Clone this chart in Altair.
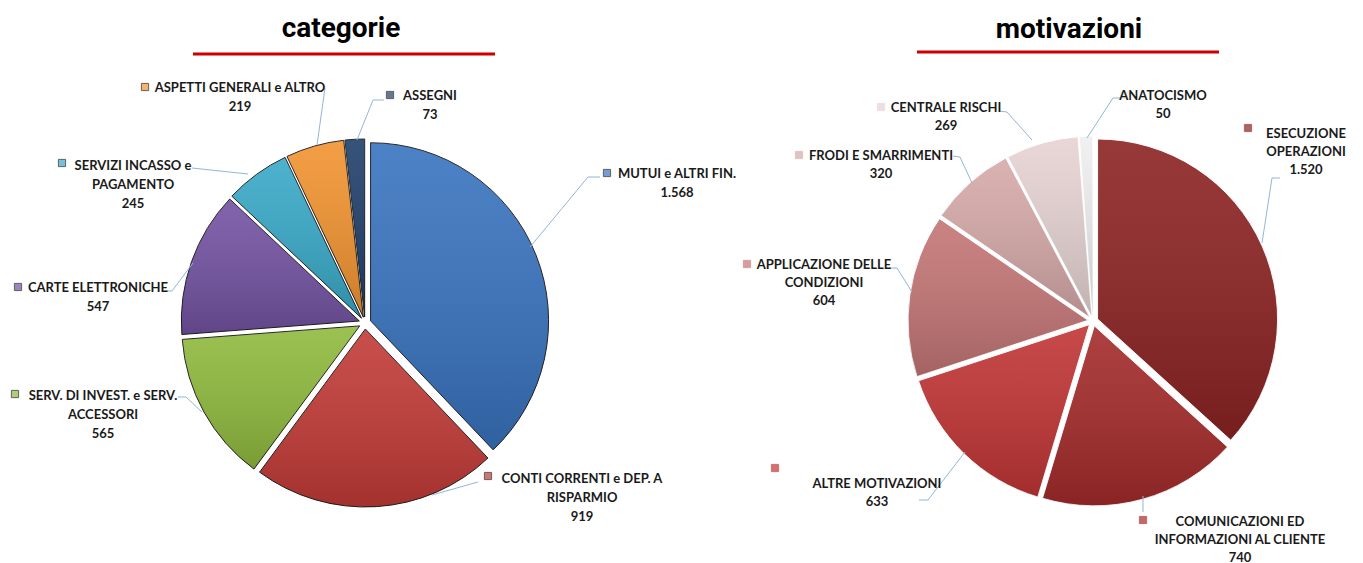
import altair as alt
import pandas as pd

# ---------------- data ----------------
cat_left = ["MUTUI e ALTRI FIN.", "CONTI CORRENTI e DEP. A\nRISPARMIO",
            "SERV. DI INVEST. e SERV.\nACCESSORI", "CARTE ELETTRONICHE",
            "SERVIZI INCASSO e\nPAGAMENTO", "ASPETTI GENERALI e ALTRO", "ASSEGNI"]
val_left = [1568, 919, 565, 547, 245, 219, 73]

cat_right = ["ESECUZIONE\nOPERAZIONI", "COMUNICAZIONI ED\nINFORMAZIONI AL CLIENTE",
             "ALTRE MOTIVAZIONI", "APPLICAZIONE DELLE\nCONDIZIONI",
             "FRODI E SMARRIMENTI", "CENTRALE RISCHI", "ANATOCISMO"]
val_right = [1520, 740, 633, 604, 320, 269, 50]

titles = ["categorie", "motivazioni"]

# ---------------- styles / layout ----------------
col_left = ["#3873bf", "#c23a36", "#8fba3d", "#7352a2", "#38a9c8", "#f29330", "#1f3f6b"]
col_right = ["#8c2222", "#a42a2a", "#c13434", "#c47575", "#d6a9a9", "#e7d3d3", "#efefef"]

pies = {"L": dict(cx=365, cy=323, r=178, e=6, stroke="#1e1e1e"),
        "R": dict(cx=1093, cy=321, r=180, e=5, stroke="#ffffff")}

# label block: centre x, first-line centre y (page pixels)
lab_left = [(677, 173), (582, 478), (103, 395), (98, 287), (133, 165), (240, 87), (430, 95)]
lab_right = [(1306, 133), (1240, 521), (877, 483), (824, 264), (881, 155), (946, 107), (1163, 95)]
line_h = {"L": 19, "R": 18}
mk_left = [(607, 173), (488, 476), (15, 394), (18, 287), (62, 163), (145, 87), (390, 95)]
mk_right = [(1248, 128), (1143, 520), (775, 468), (747, 264), (799, 155), (881, 107), (1124, 95)]

lines_left = [[(530, 247), (588, 177), (600, 177)],
              [(432, 495), (478, 482)],
              [(178, 397), (186, 397), (202, 412)],
              [(166, 291), (172, 291), (193, 263)],
              [(192, 168), (248, 174)],
              [(325, 88), (317, 145)],
              [(384, 100), (373, 100), (357, 140)]]
lines_right = [[(1280, 178), (1272, 178), (1262, 243)],
               [(1143, 496), (1143, 512)],
               [(919, 500), (928, 500), (965, 452)],
               [(889, 268), (897, 268), (912, 292)],
               [(953, 156), (960, 157), (972, 183)],
               [(999, 111), (1007, 112), (1032, 140)],
               [(1120, 98), (1113, 98), (1087, 138)]]

title_pos = [(341, 29), (1069, 30)]
underline = [(193, 495, 54), (917, 1219, 52)]

W, H = 1347, 555
LABEL_FONT = "Lato"

# ---------------- tables ----------------
rows = []
for pie, cats, vals, cols in (("L", cat_left, val_left, col_left), ("R", cat_right, val_right, col_right)):
    p = pies[pie]
    for i, (c, v, col) in enumerate(zip(cats, vals, cols)):
        rows.append(dict(pie=pie, idx=i, name=c, value=v, color=col,
                         pcx=p["cx"], pcy=p["cy"], r=p["r"], e=p["e"], stroke=p["stroke"]))
slices = pd.DataFrame(rows)

lab_rows = []
for pie, cats, vals, cols, labs, mks in (("L", cat_left, val_left, col_left, lab_left, mk_left),
                                          ("R", cat_right, val_right, col_right, lab_right, mk_right)):
    for c, v, col, (lx, ly), (mx, my) in zip(cats, vals, cols, labs, mks):
        lab_rows.append(dict(pie=pie, name=c, value=v, color=col, lx=lx, ly=ly + 4.5, mx=mx, my=my,
                             mstroke="#1e1e1e" if pie == "L" else col))
labels = pd.DataFrame(lab_rows)

ln_rows = []
for pie, lines in (("L", lines_left), ("R", lines_right)):
    for j, pts in enumerate(lines):
        for k, (x, y) in enumerate(pts):
            ln_rows.append(dict(line=f"{pie}{j}", k=k, x=x, y=y))
leaders = pd.DataFrame(ln_rows)

titles_df = pd.DataFrame([dict(t=t, x=x, y=y) for t, (x, y) in zip(titles, title_pos)])
under_df = pd.DataFrame([dict(x=a, x2=b, y=y) for a, b, y in underline])

xs = alt.Scale(domain=[8, 8 + W])
ys = alt.Scale(domain=[8, 8 + H], reverse=True)


def arc_base(df):
    return (alt.Chart(df)
            .transform_joinaggregate(total="sum(value)", groupby=["pie"])
            .transform_window(cum="sum(value)", sort=[alt.SortField("idx")], groupby=["pie"],
                              frame=[None, 0])
            .transform_calculate(t1="datum.cum / datum.total * 2 * PI",
                                 t0="(datum.cum - datum.value) / datum.total * 2 * PI")
            .transform_calculate(mid="(datum.t0 + datum.t1) / 2")
            .transform_calculate(cx="datum.pcx + datum.e * sin(datum.mid)",
                                 cy="datum.pcy - datum.e * cos(datum.mid)"))


arc_enc = dict(
    x=alt.X("cx:Q", scale=xs, axis=None),
    y=alt.Y("cy:Q", scale=ys, axis=None),
    theta=alt.Theta("t0:Q", scale=None, stack=None),
    theta2=alt.Theta2("t1:Q"),
    radius=alt.Radius("r:Q", scale=None),
)

arcs = arc_base(slices).mark_arc(strokeWidth=1).encode(
    fill=alt.Fill("color:N", scale=None),
    stroke=alt.Stroke("stroke:N", scale=None),
    **arc_enc,
)

shade = arc_base(slices).mark_arc(
    fill=alt.LinearGradient(gradient="linear", x1=0, y1=0, x2=0, y2=1,
                            stops=[alt.GradientStop(color="rgba(255,255,255,0.10)", offset=0),
                                   alt.GradientStop(color="rgba(0,0,0,0.16)", offset=1)]),
    strokeWidth=0,
).encode(**arc_enc)

lead = alt.Chart(leaders).mark_line(color="#94b5da", strokeWidth=1).encode(
    x=alt.X("x:Q", scale=xs, axis=None),
    y=alt.Y("y:Q", scale=ys, axis=None),
    detail="line:N",
    order="k:Q",
)

markers = alt.Chart(labels).mark_square(size=52, strokeWidth=1).encode(
    x=alt.X("mx:Q", scale=xs, axis=None),
    y=alt.Y("my:Q", scale=ys, axis=None),
    fill=alt.Fill("color:N", scale=None),
    stroke=alt.Stroke("mstroke:N", scale=None),
)


def text_layer(pie):
    return alt.Chart(labels).transform_filter(alt.datum.pie == pie).transform_calculate(
        label="datum.name + '\\n' + replace(format(datum.value, ','), ',', '.')"
    ).mark_text(font=LABEL_FONT, fontSize=13, fontWeight="bold", color="#1a1a1a",
                align="center", baseline="alphabetic", lineBreak="\n",
                lineHeight=line_h[pie]).encode(
        x=alt.X("lx:Q", scale=xs, axis=None),
        y=alt.Y("ly:Q", scale=ys, axis=None),
        text="label:N",
    )


title_marks = alt.Chart(titles_df).mark_text(font="Roboto", fontSize=28, fontWeight="bold",
                                             color="#000000", baseline="middle").encode(
    x=alt.X("x:Q", scale=xs, axis=None),
    y=alt.Y("y:Q", scale=ys, axis=None),
    text="t:N",
)

under = alt.Chart(under_df).mark_rule(color="#cc0000", strokeWidth=3).encode(
    x=alt.X("x:Q", scale=xs, axis=None),
    x2="x2:Q",
    y=alt.Y("y:Q", scale=ys, axis=None),
)

chart = alt.layer(arcs, shade, lead, markers, text_layer("L"), text_layer("R"),
                  title_marks, under).properties(
    width=W, height=H, padding=0, autosize=alt.AutoSizeParams(type="none"),
    background="#ffffff",
).configure_view(stroke=None)

chart.save("out.html", embed_options={"renderer": "svg", "actions": False})
